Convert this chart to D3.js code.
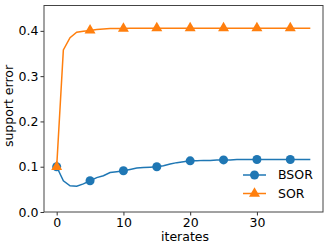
<!DOCTYPE html>
<html>
<head>
<meta charset="utf-8">
<script src="https://cdn.jsdelivr.net/npm/d3@7"></script>
<style>
  body { margin: 0; background: #fff; }
  text { font-family: "DejaVu Sans", sans-serif; }
</style>
</head>
<body>
<svg id="chart" width="332" height="248"></svg>
<script>
// iterates 0..38
const iterates = d3.range(0, 39);
const bsor = [0.100, 0.069, 0.058, 0.057, 0.062, 0.069, 0.076, 0.080, 0.087, 0.089,
              0.091, 0.094, 0.097, 0.098, 0.099, 0.100, 0.102, 0.106, 0.109, 0.111,
              0.113, 0.113, 0.114, 0.114, 0.115, 0.115, 0.115, 0.116, 0.116, 0.116,
              0.116, 0.116, 0.116, 0.116, 0.116, 0.116, 0.116, 0.116, 0.116];
const sor = [0.100, 0.358, 0.385, 0.397, 0.399, 0.401, 0.403, 0.404, 0.405, 0.405,
             0.405, 0.406, 0.406, 0.406, 0.406, 0.406, 0.406, 0.406, 0.406, 0.406,
             0.406, 0.406, 0.406, 0.406, 0.406, 0.406, 0.406, 0.406, 0.406, 0.406,
             0.406, 0.406, 0.406, 0.406, 0.406, 0.406, 0.406, 0.406, 0.406];
const xTicks = [0, 10, 20, 30];
const yTicks = [0.0, 0.1, 0.2, 0.3, 0.4];
const markEvery = 5;

const series = [
  { name: 'BSOR', values: bsor, color: '#1f77b4', symbol: d3.symbolCircle },
  { name: 'SOR', values: sor, color: '#ff7f0e', symbol: d3.symbolTriangle }
];

const svg = d3.select('#chart');
const m = { left: 44, right: 9, top: 5.5, bottom: 36 };
const W = 332, H = 248;
const fs = 12.5;

const x = d3.scaleLinear().domain([-1.9, 39.9]).range([m.left, W - m.right]);
const y = d3.scaleLinear().domain([0, 0.456]).range([H - m.bottom, m.top]);

// axes
const xAxis = svg.append('g')
  .attr('transform', `translate(0,${H - m.bottom})`)
  .call(d3.axisBottom(x).tickValues(xTicks).tickFormat(d3.format('d')).tickSize(3.5).tickPadding(2.5));
const yAxis = svg.append('g')
  .attr('transform', `translate(${m.left},0)`)
  .call(d3.axisLeft(y).tickValues(yTicks).tickFormat(d3.format('.1f')).tickSize(3.5).tickPadding(2));
[xAxis, yAxis].forEach(a => {
  a.select('.domain').remove();
  a.selectAll('line').attr('stroke', '#333');
  a.selectAll('text').attr('font-size', fs).attr('fill', '#000');
});

// frame
svg.append('rect')
  .attr('x', m.left).attr('y', m.top)
  .attr('width', W - m.right - m.left).attr('height', H - m.bottom - m.top)
  .attr('fill', 'none').attr('stroke', '#444').attr('stroke-width', 1);

const line = d3.line().x((d, i) => x(iterates[i])).y(d => y(d));

series.forEach(s => {
  svg.append('path')
    .attr('d', line(s.values))
    .attr('fill', 'none')
    .attr('stroke', s.color)
    .attr('stroke-width', 1.5);
  svg.append('g').selectAll('path')
    .data(s.values.map((v, i) => [iterates[i], v]).filter(d => d[0] % markEvery === 0))
    .join('path')
    .attr('transform', d => `translate(${x(d[0])},${y(d[1])})`)
    .attr('d', d3.symbol().type(s.symbol).size(s.symbol === d3.symbolCircle ? 64 : 52))
    .attr('fill', s.color);
});

// labels
svg.append('text')
  .attr('x', 185).attr('y', 241)
  .attr('text-anchor', 'middle').attr('font-size', fs)
  .text('iterates');
svg.append('text')
  .attr('transform', `translate(13,106) rotate(-90)`)
  .attr('text-anchor', 'middle').attr('font-size', fs)
  .text('support error');

// legend
const lg = svg.append('g').attr('transform', 'translate(243,175)');
series.forEach((s, i) => {
  const g = lg.append('g').attr('transform', `translate(0,${i * 18.5})`);
  g.append('line').attr('x1', 0).attr('x2', 23).attr('stroke', s.color).attr('stroke-width', 1.5);
  g.append('path')
    .attr('transform', 'translate(11.5,0)')
    .attr('d', d3.symbol().type(s.symbol).size(s.symbol === d3.symbolCircle ? 64 : 52))
    .attr('fill', s.color);
  g.append('text').attr('x', 35).attr('y', 4.3).attr('font-size', fs).text(s.name);
});
</script>
</body>
</html>
